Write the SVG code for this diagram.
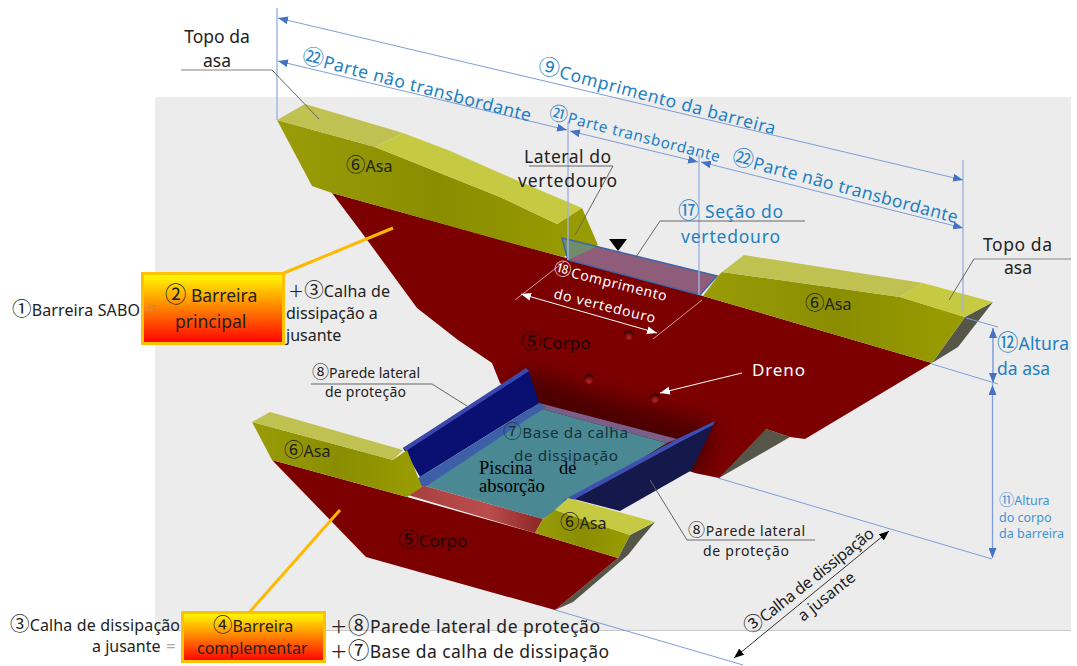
<svg xmlns="http://www.w3.org/2000/svg" width="1077" height="666" viewBox="0 0 1077 666">
<style>
text{font-family:"Noto Sans","Noto Sans CJK JP",sans-serif;fill:#222}
.c{font-size:1.22em}
.s17{font-size:17.500px}.s15{font-size:16px}.s14{font-size:14px}.s155{font-size:15.300px}
.serif{font-family:"Liberation Serif",serif;font-size:18.500px;fill:#000}
.blue{fill:#1f7fc4}.lblue{fill:#3f93d6;font-size:12.500px}.white{fill:#fff}
.dim{stroke:#7f9ddb;stroke-width:1;fill:none}
.dimA{stroke:#7f9ddb;stroke-width:1;fill:none;marker-start:url(#ba);marker-end:url(#ba)}
.ext{stroke:#9db3e2;stroke-width:1.400;fill:none}
.lead{stroke:#666;stroke-width:1;fill:none}
.wA{stroke:#fff;stroke-width:1;fill:none;marker-start:url(#wa);marker-end:url(#wa)}
.wE{stroke:#e8c0c0;stroke-width:.8;fill:none}
.top{fill:#c6ca42}.topm{fill:#bfc150}.front{fill:url(#yf)}.gr{fill:#555548}
.or{stroke:#ffb900;stroke-width:3;fill:none}
.box{fill:url(#yr);stroke:#ffc000;stroke-width:3}
</style>
<defs>
<marker id="ba" markerUnits="userSpaceOnUse" viewBox="0 0 10 8" refX="10" refY="4" markerWidth="10" markerHeight="8" orient="auto-start-reverse"><path d="M0 0L10 4L0 8Z" fill="#4472c4"/></marker>
<marker id="wa" markerUnits="userSpaceOnUse" viewBox="0 0 10 8" refX="10" refY="4" markerWidth="10" markerHeight="8" orient="auto-start-reverse"><path d="M0 0L10 4L0 8Z" fill="#fff"/></marker>
<marker id="wb" markerUnits="userSpaceOnUse" viewBox="0 0 10 8" refX="10" refY="4" markerWidth="10" markerHeight="8" orient="auto"><path d="M0 0L10 4L0 8Z" fill="#fff"/></marker>
<marker id="ka" markerUnits="userSpaceOnUse" viewBox="0 0 10 8" refX="10" refY="4" markerWidth="10" markerHeight="8" orient="auto-start-reverse"><path d="M0 0L10 4L0 8Z" fill="#000"/></marker>
<linearGradient id="yr" x1="0" y1="0" x2="0" y2="1"><stop offset="0" stop-color="#ffff00"/><stop offset="1" stop-color="#ff0000"/></linearGradient>
<linearGradient id="yf" x1="0" y1="0" x2="1" y2="0"><stop offset="0" stop-color="#9a9d08"/><stop offset=".5" stop-color="#8a8d00"/><stop offset="1" stop-color="#9a9d00"/></linearGradient>
<linearGradient id="rs" x1="0" y1="0" x2="1" y2="0"><stop offset="0" stop-color="#a8403f"/><stop offset=".6" stop-color="#ba4c4c"/><stop offset="1" stop-color="#8c2525"/></linearGradient>
<radialGradient id="hole" cx=".5" cy=".75" r=".6"><stop offset="0" stop-color="#b82828"/><stop offset=".55" stop-color="#8a0c0c"/><stop offset="1" stop-color="#3a0000"/></radialGradient>
<filter id="bl" x="-30%" y="-30%" width="160%" height="160%"><feGaussianBlur stdDeviation="10"/></filter>
<clipPath id="cb"><path d="M332 193L365 237L417 308L458 340L492 363L500 383L520 400L540 420L695 473L719 478L766 429L790 437L805 439L932 363L703 296L563 257Z"/></clipPath>
</defs>

<g id="background"><rect x="155" y="97" width="916" height="533" fill="#ececec"/><path d="M155 630.500H1071" stroke="#c8c8c8"/></g>

<g id="main-barrier">
<path class="gr" d="M766 429L790 437L719 478L712 474Z"/>
<path class="gr" d="M993 302L965 317L932 363L958 347Z"/>
<path id="main-body" d="M332 193L365 237L417 308L458 340L492 363L500 383L520 400L540 420L695 473L719 478L766 429L790 437L805 439L932 363L703 296L563 257Z" fill="#7c0000"/>
<g clip-path="url(#cb)"><path d="M510 385L530 370L600 395L715 425L700 478L540 430Z" fill="#3c0000" opacity=".75" filter="url(#bl)"/></g>
<path class="front" d="M277 120L375 147L500 197L557 224L582 208L598 245L563 257L500 240L332 193L312 186Z"/>
<path class="top" d="M403 133L448 150L500 173L582 208L557 224L500 197L375 147Z"/>
<path class="topm" d="M277 120L305 104L403 133L375 147Z"/>
<path class="front" d="M703 296L718 276L722 272L900 297L965 317L932 363Z"/>
<path class="topm" d="M722 272L744 255L923 283L900 297Z"/>
<path class="top" d="M923 283L993 302L965 317L900 297Z"/>
<circle cx="629" cy="335" r="5" fill="url(#hole)"/><circle cx="589" cy="379" r="5" fill="url(#hole)"/><circle cx="655" cy="398" r="5" fill="url(#hole)"/>
</g>

<g id="spillway">
<path d="M562 238L717 276L700 295L568 260Z" fill="#8f5c7a"/>
<path d="M562 238L598 246L568 260Z" fill="#6f8c6c"/>
<path d="M562 238L717 276L700 295L568 260Z" fill="none" stroke="#3e66a8" stroke-width="1.500"/>
<path d="M609 239H627L618 251Z" fill="#000"/>
</g>

<g id="apron">
<path d="M403 448L528 369L539 403L420 477Z" fill="#0a0f72"/>
<path d="M403 448L526 368L529 371L406 451Z" fill="#3a48ac"/>
<path d="M539 403L677 439L667 443L542 409Z" fill="#7a5f8a"/>
<path d="M425 486L542 409L667 443L543 519Z" fill="#4a8893"/>
<path d="M410 484L420 477L539 403L546 407L425 487Z" fill="#3c5fa8"/>
<path d="M408 495L415 487L425 486L543 519L535 533Z" fill="url(#rs)"/>
<path d="M570 498L677 440L715 422L692 470L620 511Z" fill="#14184a"/>
<path d="M562 501L677 439L715 421L713 425L680 442L575 499Z" fill="#3f4fb0"/>
</g>

<g id="complementary-barrier">
<path class="gr" d="M655 522L630 535L618 558L555 610L573 602L628 555L640 540Z"/>
<path id="lower-body" d="M272 460L407 497L535 533L618 558L555 610L366 557Z" fill="#7c0000"/>
<path class="front" d="M252 422L393 460L407 450L422 487L407 497L272 460Z"/>
<path class="topm" d="M252 422L270 412L403 450L393 460Z"/>
<path class="front" d="M542 520L555 510L630 535L618 558L535 533Z"/>
<path class="top" d="M555 510L568 498L655 522L630 535Z"/>
</g>

<g id="connectors">
<path class="ext" d="M277 8V120M568 122V260M699 155V295M963 160V312M993 328V383M992.500 383V558"/>
<path class="dimA" d="M278 18L963 180"/>
<path class="dimA" d="M278 61L567 130"/>
<path class="dimA" d="M570 131L698 162"/>
<path class="dimA" d="M701 162L963 228"/>
<path class="dimA" d="M993 328V383"/>
<path class="dimA" d="M992.500 385V558"/>
<path class="dim" d="M966 318L998 327M932 364L998 384M718 478L992 559M555 610L743 665"/>
<path d="M889 531L734 658" stroke="#333" stroke-width="1" marker-start="url(#ka)" marker-end="url(#ka)"/>
<path class="wE" d="M515 300L565 261M653 339L702 300"/>
<path class="wA" d="M521 294L657 333"/>
<path d="M742 373L660 393" stroke="#fff" stroke-width="1" marker-end="url(#wb)"/>
<path d="M181 70H272" stroke="#aaa" stroke-width="1.500" fill="none"/><path class="lead" d="M272 70L319 119"/>
<path d="M974 259H1071" stroke="#888" stroke-width="1.200" fill="none"/><path class="lead" d="M974 259L949 300"/>
<path class="lead" d="M529 166H613L575 235"/>
<path class="lead" d="M805 221H660L636 257"/>
<path class="lead" d="M311 384H432L467 406"/>
<path d="M815 540H687" stroke="#999" stroke-width="1.300"/><path class="lead" d="M687 540L650 480"/>
<path class="or" d="M284 273L393 228"/>
<path class="or" d="M247 615L340 510"/>
</g>

<g id="box-main"><rect class="box" x="142.500" y="273.500" width="141" height="70"/>
<text class="s17" x="165" y="302"><tspan class="c">②</tspan> Barreira</text><text class="s17" x="175" y="328">principal</text></g>
<g id="box-complementary"><rect class="box" x="182.500" y="612.500" width="142" height="49"/>
<text class="s15" x="213" y="632"><tspan class="c">④</tspan>Barreira</text><text class="s15" x="197" y="654">complementar</text></g>

<g id="labels-left">
<text class="s15" x="12" y="316" textLength="128"><tspan class="c">①</tspan>Barreira SABO</text>
<text x="145" y="315" style="font-size:19px;fill:#999">=</text>
<text class="s15" x="288" y="297" textLength="102">＋<tspan class="c">③</tspan>Calha de</text>
<text class="s15" x="286" y="319">dissipação a</text>
<text class="s15" x="286" y="341">jusante</text>
<text class="s17" x="217" y="43" text-anchor="middle">Topo da</text>
<text class="s17" x="217" y="67" text-anchor="middle">asa</text>
<text class="s15" x="10" y="631" textLength="170"><tspan class="c">③</tspan>Calha de dissipação</text>
<text class="s15" x="92" y="652">a jusante</text>
<text x="166" y="652" style="font-size:17px;fill:#aaa">=</text>
<text class="s17" x="330" y="633" textLength="270">＋<tspan class="c">⑧</tspan>Parede lateral de proteção</text>
<text class="s17" x="330" y="658" textLength="279">＋<tspan class="c">⑦</tspan>Base da calha de dissipação</text>
</g>

<g id="labels-dimensions">
<text class="blue s17" transform="translate(301 62) rotate(14.600)" textLength="236"><tspan class="c">㉒</tspan>Parte não transbordante</text>
<text class="blue s17" transform="translate(537 72) rotate(14.800)" textLength="245"><tspan class="c">⑨</tspan>Comprimento da barreira</text>
<text class="blue s155" transform="translate(548 118) rotate(14.500)" textLength="176"><tspan class="c">㉑</tspan>Parte transbordante</text>
<text class="blue s17" transform="translate(731 163) rotate(15)" textLength="233"><tspan class="c">㉒</tspan>Parte não transbordante</text>
<text class="blue s17" x="678" y="218" textLength="105"><tspan class="c">⑰</tspan> Seção do</text>
<text class="blue s17" x="681" y="243" textLength="99">vertedouro</text>
<text class="blue s17" x="997" y="350" textLength="72"><tspan class="c">⑫</tspan>Altura</text>
<text class="blue s17" x="997" y="375">da asa</text>
<text class="lblue" x="999" y="505"><tspan class="c">⑪</tspan>Altura</text>
<text class="lblue" x="999" y="522">do corpo</text>
<text class="lblue" x="999" y="538">da barreira</text>
<text class="s15" transform="translate(750 635) rotate(-38.500)" textLength="160"><tspan class="c">③</tspan>Calha de dissipação</text>
<text class="s15" transform="translate(803 622) rotate(-38.500)">a jusante</text>
</g>

<g id="labels-parts">
<text class="s17" x="524" y="163" textLength="87">Lateral do</text>
<text class="s17" x="518" y="187" textLength="99">vertedouro</text>
<text class="s17" x="983" y="251" textLength="69">Topo da</text>
<text class="s17" x="1004" y="274">asa</text>
<text class="s15" x="346" y="172"><tspan class="c">⑥</tspan>Asa</text>
<text class="s15" x="805" y="310"><tspan class="c">⑥</tspan>Asa</text>
<text class="s15" x="284" y="457"><tspan class="c">⑥</tspan>Asa</text>
<text class="s15" x="560" y="529"><tspan class="c">⑥</tspan>Asa</text>
<text x="521" y="349" style="font-size:17px;fill:#1a0000"><tspan class="c">⑤</tspan>Corpo</text>
<text x="398" y="547" style="font-size:17px;fill:#1a0000"><tspan class="c">⑤</tspan>Corpo</text>
<text class="white s14" transform="translate(553 273) rotate(14)" textLength="116"><tspan class="c">⑱</tspan>Comprimento</text>
<text class="white s14" transform="translate(553 298) rotate(14)" textLength="104">do vertedouro</text>
<text class="white" x="752" y="376" style="font-size:17px" textLength="53">Dreno</text>
<text class="s14" x="312" y="378" textLength="108"><tspan class="c">⑧</tspan>Parede lateral</text>
<text class="s14" x="325" y="397" textLength="81">de proteção</text>
<text class="s14" x="688" y="536" textLength="117"><tspan class="c">⑧</tspan>Parede lateral</text>
<text class="s14" x="703" y="556" textLength="86">de proteção</text>
<text class="s155" x="503" y="438" style="fill:#15323a" textLength="125"><tspan class="c">⑦</tspan>Base da calha</text>
<text class="s155" x="514" y="461" style="fill:#15323a" textLength="104">de dissipação</text>
<text class="serif" x="479" y="474">Piscina<tspan x="559">de</tspan></text>
<text class="serif" x="479" y="492">absorção</text>
</g>
</svg>
